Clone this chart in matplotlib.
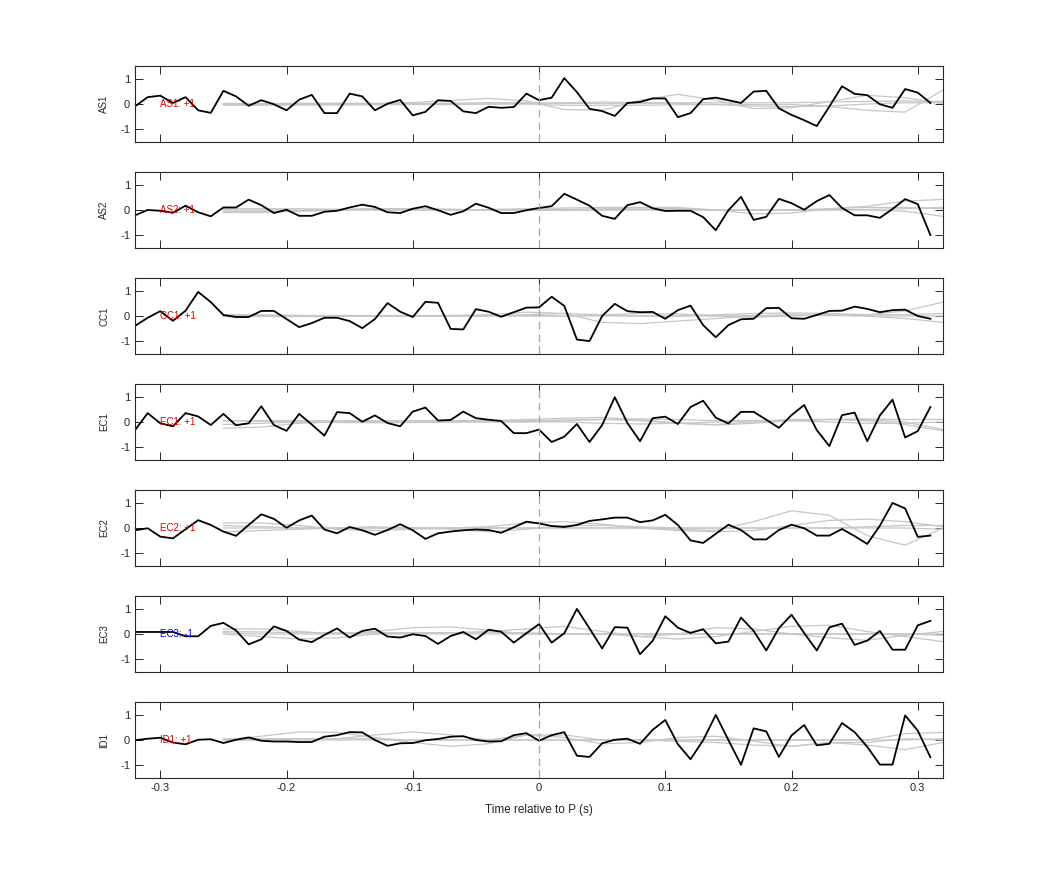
import numpy as np
import matplotlib
matplotlib.use('Agg')
import matplotlib.pyplot as plt

plt.rcParams['font.family'] = ['Liberation Sans', 'DejaVu Sans']
plt.rcParams['axes.unicode_minus'] = False

# sample times of the black traces and of the grey reference curves
t = np.round(np.arange(-0.32, 0.315, 0.01), 2)
tg = np.round(np.arange(-0.25, 0.325, 0.03), 2)

names = ['AS1', 'AS2', 'CC1', 'EC1', 'EC2', 'EC3', 'ID1']
signs = ['+1', '+1', '+1', '+1', '+1', '-1', '+1']

as1 = [-0.09, 0.27, 0.33, 0.04, 0.27, -0.25, -0.35, 0.52, 0.30, -0.07, 0.15, -0.01, -0.25, 0.17, 0.36, -0.36,
       -0.36, 0.41, 0.30, -0.25, 0.01, 0.16, -0.45, -0.31, 0.15, 0.12, -0.29, -0.36, -0.11, -0.15, -0.12, 0.41,
       0.15, 0.25, 1.02, 0.47, -0.19, -0.28, -0.47, 0.04, 0.08, 0.22, 0.22, -0.52, -0.36, 0.19, 0.25, 0.15,
       0.04, 0.49, 0.52, -0.17, -0.43, -0.64, -0.87, -0.10, 0.70, 0.40, 0.35, -0.01, -0.15, 0.59, 0.45, 0.04]
as2 = [-0.21, 0.00, -0.03, -0.11, 0.17, -0.09, -0.25, 0.10, 0.10, 0.41, 0.19, -0.12, 0.01, -0.23, -0.23, -0.07,
       -0.03, 0.10, 0.21, 0.12, -0.09, -0.12, 0.05, 0.15, -0.01, -0.19, -0.05, 0.25, 0.09, -0.12, -0.12, -0.01,
       0.08, 0.15, 0.64, 0.41, 0.17, -0.23, -0.35, 0.19, 0.31, 0.07, -0.04, -0.03, -0.03, -0.28, -0.80, -0.01,
       0.52, -0.39, -0.27, 0.44, 0.27, 0.01, 0.35, 0.59, 0.08, -0.21, -0.21, -0.31, 0.04, 0.43, 0.23, -0.99]
cc1 = [-0.39, -0.07, 0.19, -0.19, 0.21, 0.95, 0.55, 0.04, -0.04, -0.04, 0.20, 0.20, -0.12, -0.44, -0.28, -0.07,
       -0.07, -0.20, -0.48, -0.12, 0.51, 0.17, -0.04, 0.56, 0.52, -0.51, -0.53, 0.27, 0.17, -0.03, 0.15, 0.33,
       0.34, 0.76, 0.40, -0.93, -0.99, 0.00, 0.48, 0.19, 0.15, 0.16, -0.11, 0.23, 0.41, -0.36, -0.84, -0.36,
       -0.13, -0.11, 0.31, 0.32, -0.09, -0.11, 0.04, 0.20, 0.21, 0.37, 0.28, 0.15, 0.23, 0.25, 0.00, -0.11]
ec1 = [-0.32, 0.35, -0.05, -0.17, 0.35, 0.22, -0.12, 0.32, -0.13, -0.05, 0.62, -0.12, -0.35, 0.32, -0.10, -0.54,
       0.39, 0.35, 0.01, 0.26, -0.04, -0.17, 0.41, 0.57, 0.06, 0.08, 0.41, 0.15, 0.09, 0.04, -0.44, -0.44,
       -0.30, -0.79, -0.58, -0.08, -0.79, -0.12, 0.98, -0.04, -0.76, 0.15, 0.21, -0.08, 0.59, 0.84, 0.17, -0.06,
       0.40, 0.40, 0.09, -0.23, 0.27, 0.67, -0.32, -0.95, 0.27, 0.37, -0.76, 0.26, 0.88, -0.61, -0.36, 0.59]
ec2 = [-0.09, -0.01, -0.34, -0.41, -0.05, 0.31, 0.12, -0.14, -0.31, 0.12, 0.54, 0.36, 0.01, 0.30, 0.49, -0.06,
       -0.21, 0.04, -0.09, -0.27, -0.08, 0.15, -0.09, -0.43, -0.21, -0.14, -0.09, -0.06, -0.08, -0.19, 0.03, 0.25,
       0.18, 0.08, 0.04, 0.12, 0.28, 0.34, 0.41, 0.41, 0.23, 0.30, 0.52, 0.12, -0.49, -0.59, -0.23, 0.13,
       -0.08, -0.45, -0.45, -0.08, 0.13, -0.01, -0.30, -0.30, -0.04, -0.32, -0.63, 0.09, 0.99, 0.77, -0.35, -0.30]
ec3 = [0.08, 0.08, 0.08, 0.08, -0.09, -0.09, 0.32, 0.44, 0.14, -0.41, -0.21, 0.30, 0.12, -0.22, -0.32, -0.04,
       0.22, -0.14, 0.12, 0.21, -0.10, -0.14, -0.01, -0.08, -0.39, -0.08, 0.08, -0.21, 0.17, 0.09, -0.34, 0.03,
       0.39, -0.34, 0.03, 0.99, 0.22, -0.57, 0.27, 0.25, -0.80, -0.27, 0.70, 0.25, 0.04, 0.19, -0.37, -0.30,
       0.65, 0.12, -0.65, 0.23, 0.76, 0.04, -0.65, 0.26, 0.41, -0.43, -0.26, 0.12, -0.62, -0.62, 0.34, 0.52]
id1 = [-0.01, 0.05, 0.09, -0.10, -0.17, 0.01, 0.03, -0.12, 0.01, 0.10, -0.03, -0.06, -0.06, -0.08, -0.08, 0.13,
       0.19, 0.31, 0.30, 0.00, -0.23, -0.13, -0.12, -0.01, 0.04, 0.13, 0.15, 0.00, -0.06, -0.05, 0.19, 0.27,
       -0.03, 0.19, 0.31, -0.62, -0.67, -0.13, 0.01, 0.05, -0.15, 0.40, 0.79, -0.17, -0.76, -0.01, 0.99, 0.00,
       -0.98, 0.46, 0.34, -0.67, 0.18, 0.59, -0.21, -0.15, 0.67, 0.31, -0.27, -0.97, -0.97, 0.97, 0.37, -0.68]

# grey curves, sampled every 0.03 s from -0.25 s
as1_grey = [
    [0, 0, 0, 0, 0.02, 0.06, 0.14, 0.22, 0.12, -0.22, -0.25, 0.15, 0.38, 0.15, -0.18, -0.15, 0.1, 0.34, 0.25, 0.02],
    [0, -0.02, -0.02, 0, 0, 0, 0, 0, 0, -0.05, -0.05, -0.05, -0.03, -0.02, -0.02, -0.02, -0.1, -0.25, -0.32, 0.55],
    [0.02, 0.02, 0.03, 0.03, 0.02, 0.02, 0.03, 0.05, 0.05, 0.03, 0.02, 0.02, 0.05, 0.05, 0.05, 0.05, 0.08, 0.1, 0.12, 0.1],
    [-0.05, -0.05, -0.04, -0.04, -0.03, -0.02, -0.02, 0, 0.02, 0.05, 0.08, 0.06, 0.02, -0.02, -0.08, -0.1, -0.08, 0, 0.05, 0.05],
]
as2_grey = [
    [-0.05, -0.05, -0.03, 0, 0, 0, 0, 0, 0, 0, 0, 0, 0, 0, 0, 0, 0.05, 0.15, 0.35, 0.42],
    [-0.1, -0.1, -0.05, 0, 0.05, 0.05, 0.02, 0, 0, -0.02, 0, 0.02, 0, 0, 0, 0, 0, 0, -0.05, -0.25],
    [0.05, 0.05, 0.05, 0.02, 0, 0, 0, 0.02, 0.05, 0.08, 0.1, 0.1, 0.1, 0, -0.15, -0.12, 0.05, 0.1, 0.1, 0.05],
    [0, 0, 0, 0.03, 0.05, 0.05, 0.03, 0, 0, 0.03, 0.05, 0.08, 0.05, 0, 0, 0, 0, 0.02, 0.05, 0.1],
]
cc1_grey = [
    [0, 0, 0, 0, 0, 0, 0.02, 0.05, 0.15, 0.1, -0.25, -0.3, -0.2, -0.1, 0, 0.05, 0.02, 0, 0, 0],
    [0.02, 0.02, 0.02, 0.02, 0.02, 0.02, 0.02, 0.02, 0.02, 0, 0, 0, 0, 0, 0.02, 0.02, 0.02, 0.05, 0.2, 0.55],
    [-0.02, -0.02, -0.02, -0.02, 0, 0, 0, 0, 0, 0, 0.05, 0.1, 0.08, 0, -0.05, 0, 0.05, 0, -0.1, -0.25],
    [0.05, 0.05, 0.02, 0, 0, 0, 0, 0, 0.05, 0.1, 0.05, 0, 0, 0.05, 0.1, 0.12, 0.1, 0.05, 0.05, 0.1],
]
ec1_grey = [
    [-0.25, -0.2, -0.05, 0, 0.03, 0.05, 0.05, 0.05, 0.1, 0.15, 0.18, 0.1, -0.05, -0.1, 0, 0.1, 0.1, 0.1, 0, -0.3],
    [-0.1, -0.05, 0, 0, 0, 0, 0, 0, 0, 0.05, 0.1, 0.05, -0.05, -0.12, -0.05, 0.05, 0.1, 0.05, -0.1, -0.35],
    [0.05, 0.05, 0.05, 0.05, 0.05, 0.05, 0.05, 0.05, 0.05, 0.08, 0.1, 0.12, 0.1, 0.05, 0.05, 0.08, 0.1, 0.12, 0.1, 0.1],
    [0.05, 0.03, 0, -0.02, -0.03, -0.02, 0, 0.02, 0.02, 0, -0.05, -0.08, -0.05, 0, 0.05, 0.05, 0, -0.05, -0.05, 0],
]
ec2_grey = [
    [0, 0, 0, 0, 0, 0, 0, 0, 0, 0, 0, 0, -0.05, -0.1, 0.25, 0.68, 0.5, -0.3, -0.68, 0.0],
    [0.2, 0.2, 0.1, -0.05, -0.1, -0.05, 0, 0.05, 0.2, 0.25, 0.15, 0, -0.1, -0.15, -0.1, 0.1, 0.3, 0.35, 0.25, 0.05],
    [-0.15, -0.1, -0.05, 0, 0.05, 0, -0.05, -0.15, -0.05, 0.1, 0.1, 0.05, 0, 0, 0, 0, 0, 0.05, 0.1, 0.1],
    [0.1, 0.05, 0, 0, 0, 0, 0, 0, 0, 0, 0, 0, 0, 0, 0, 0, 0, 0, 0, -0.05],
]
ec3_grey = [
    [0.2, 0.2, 0.1, 0, 0.1, 0.25, 0.28, 0.15, 0, 0, 0, -0.1, -0.2, -0.1, 0.1, 0.3, 0.35, 0.1, -0.1, -0.3],
    [0, -0.1, -0.2, -0.15, 0, 0.05, 0.05, 0.1, 0.2, 0.3, 0.1, -0.1, 0, 0.25, 0.2, 0, -0.15, -0.25, -0.05, 0.1],
    [0.1, 0.08, 0.05, 0.05, 0.05, 0.05, 0.05, 0.05, 0.05, 0, 0, 0, 0, 0, 0, 0, 0, 0, 0, -0.05],
    [0.05, 0, 0, 0, 0, 0, 0, 0, 0, 0, 0, 0, 0, 0, 0, 0, 0, 0, 0, 0],
]
id1_grey = [
    [0, 0.15, 0.32, 0.3, 0.1, -0.1, -0.25, -0.15, 0.2, 0.2, 0, 0, 0, 0, 0, 0, 0, 0, 0.25, 0.3],
    [0, 0, 0.05, 0.05, 0.2, 0.32, 0.2, 0, 0.2, 0.1, -0.15, -0.1, 0.1, 0.15, -0.05, -0.25, -0.1, -0.1, 0.05, 0.0],
    [0, 0, 0, 0, 0, 0, 0, 0, 0, 0, 0, 0, -0.05, -0.1, -0.2, -0.25, -0.1, -0.2, -0.38, -0.1],
    [0.05, 0.05, 0.05, 0.05, 0.05, 0, 0, 0, 0, 0, 0, 0, 0, 0, 0, 0, 0, 0, 0, 0.05],
]

black = [as1, as2, cc1, ec1, ec2, ec3, id1]
greys = [as1_grey, as2_grey, cc1_grey, ec1_grey, ec2_grey, ec3_grey, id1_grey]

fig = plt.figure(figsize=(10.42, 8.75), dpi=100)
left, width = 0.1296, 0.7754
top_px, h_px, step_px = 66, 76, 106

axes = []
for k in range(7):
    y0 = 1 - (top_px + k * step_px + h_px) / 875
    ax = fig.add_axes([left, y0, width, h_px / 875])
    axes.append(ax)

    for g in greys[k]:
        ax.plot(tg, g, color='#c6c6c6', lw=0.9)
    ax.plot(t, black[k], color='black', lw=1.3)
    ax.plot([0, 0], [-1.5, 1.5], color='#e88a8a', lw=0.9, dashes=(6, 4))

    col = 'blue' if signs[k] == '-1' else '#e00000'
    ax.text(-0.3, 0, names[k] + ': ' + signs[k], color=col, fontsize=7, va='center', ha='left')

    ax.set_xlim(-0.32, 0.32)
    ax.set_ylim(-1.5, 1.5)
    ax.set_yticks([-1, 0, 1])
    ax.set_xticks([-0.3, -0.2, -0.1, 0, 0.1, 0.2, 0.3])
    ax.set_ylabel(names[k], fontsize=7, color='#262626', labelpad=8)
    ax.tick_params(direction='in', length=5.5, width=0.7, top=True, right=True,
                   labelsize=8, colors='#262626')
    for s in ax.spines.values():
        s.set_linewidth(0.8)
        s.set_color('#262626')
    if k < 6:
        ax.set_xticklabels([])
    else:
        ax.set_xticklabels(['-0.3', '-0.2', '-0.1', '0', '0.1', '0.2', '0.3'])
        ax.set_xlabel('Time relative to P (s)', fontsize=8.5, color='#262626', labelpad=8)

plt.savefig('out.png', dpi=100)
